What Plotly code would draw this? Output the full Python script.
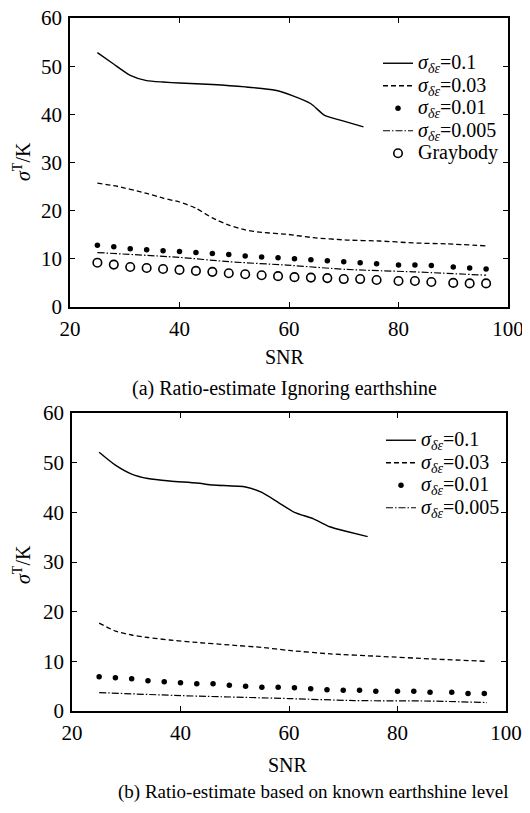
import plotly.graph_objects as go

# ---------------- data ----------------
snr_marks = [25, 28, 31, 34, 37, 40, 43, 46, 49, 52, 55, 58, 61, 64, 67, 70, 73, 76, 80, 83, 86, 90, 93, 96]

# (a) Ratio-estimate ignoring earthshine
a_x_01 = [25, 27.9, 31, 34, 37, 40, 46, 52, 57.5, 60.6, 64, 66.5, 70, 73.6]
a_y_01 = [52.8, 50.5, 48.1, 47.0, 46.7, 46.5, 46.2, 45.7, 45.0, 43.9, 42.2, 39.8, 38.6, 37.4]
a_x_003 = [25, 28, 34, 37, 40, 43, 46, 49, 52, 55, 59.6, 64.4, 70.5, 76.6, 82.7, 88.8, 96]
a_y_003 = [25.7, 25.2, 23.6, 22.6, 21.8, 20.5, 18.5, 17.0, 16.0, 15.5, 15.1, 14.4, 13.9, 13.7, 13.3, 13.1, 12.7]
a_y_001 = [12.8, 12.5, 12.1, 11.9, 11.7, 11.5, 11.3, 11.1, 10.9, 10.6, 10.4, 10.2,
           10.0, 9.8, 9.6, 9.4, 9.2, 9.0, 8.7, 8.7, 8.6, 8.3, 8.1, 7.9]
a_x_0005 = [25, 40, 49, 59.6, 70.5, 82.7, 96]
a_y_0005 = [11.3, 10.3, 9.4, 8.7, 7.8, 7.3, 6.6]
a_y_gray = [9.2, 8.8, 8.3, 8.1, 7.9, 7.7, 7.5, 7.3, 7.0, 6.8, 6.6, 6.4,
            6.2, 6.1, 6.0, 5.8, 5.8, 5.6, 5.4, 5.4, 5.2, 5.0, 4.9, 4.9]

# (b) Ratio-estimate based on known earthshine level
b_x_01 = [25, 28, 31, 34, 38, 43, 46, 52, 55, 58, 61, 64.5, 67.5, 70.5, 74.5]
b_y_01 = [52.1, 49.5, 47.7, 46.8, 46.3, 45.9, 45.5, 45.1, 44.0, 42.0, 40.0, 38.7, 37.1, 36.2, 35.1]
b_x_003 = [25, 28, 31, 34, 38, 43, 49, 55, 60, 67.6, 76.8, 86, 96.5]
b_y_003 = [17.7, 16.1, 15.3, 14.8, 14.3, 13.8, 13.3, 12.8, 12.2, 11.5, 11.0, 10.5, 10.0]
b_y_001 = [6.9, 6.7, 6.5, 6.1, 5.9, 5.7, 5.5, 5.5, 5.2, 5.0, 4.8, 4.8,
           4.7, 4.5, 4.3, 4.2, 4.2, 4.0, 4.0, 4.0, 3.8, 3.8, 3.5, 3.5]
b_x_0005 = [25, 40, 60, 72, 86, 96.5]
b_y_0005 = [3.7, 3.1, 2.5, 2.1, 2.0, 1.7]

x_ticks = [20, 40, 60, 80, 100]
y_ticks = [0, 10, 20, 30, 40, 50, 60]

legend_texts = ["<i>σ</i><sub><i>δε</i></sub>=0.1", "<i>σ</i><sub><i>δε</i></sub>=0.03",
                "<i>σ</i><sub><i>δε</i></sub>=0.01", "<i>σ</i><sub><i>δε</i></sub>=0.005", "Graybody"]
captions = ["(a) Ratio-estimate Ignoring earthshine",
            "(b) Ratio-estimate based on known earthshine level"]

# legend text drawn larger than the legend's row-spacing font
labels = ['<span style="font-size:20px">' + t + '</span>' for t in legend_texts]

# ---------------- figure ----------------
# page body has an 8px margin, so the figure is drawn 8px in from the window corner
OFF = 8
W, H = 530 - OFF, 813 - OFF
FONT = "Liberation Serif"
fig = go.Figure()

def px_x(p):
    return (p - OFF) / W

def px_y(p):
    return 1 - (p - OFF) / H

DASH = "5px,3px"
DASHDOT = "7px,2px,1.5px,2px"

def add_set(xa, ya, x01, y01, x003, y003, y001, x0005, y0005, ygray, leg):
    fig.add_trace(go.Scatter(x=x01, y=y01, mode="lines", name=labels[0], legend=leg,
                             line=dict(color="black", width=1.4, shape="spline", smoothing=0.6),
                             xaxis=xa, yaxis=ya))
    fig.add_trace(go.Scatter(x=x003, y=y003, mode="lines", name=labels[1], legend=leg,
                             line=dict(color="black", width=1.3, dash=DASH, shape="spline", smoothing=0.6),
                             xaxis=xa, yaxis=ya))
    fig.add_trace(go.Scatter(x=snr_marks, y=y001, mode="markers", name=labels[2], legend=leg,
                             marker=dict(color="black", size=5.5, symbol="circle"),
                             xaxis=xa, yaxis=ya))
    fig.add_trace(go.Scatter(x=x0005, y=y0005, mode="lines", name=labels[3], legend=leg,
                             line=dict(color="black", width=1.2, dash=DASHDOT, shape="spline", smoothing=0.6),
                             xaxis=xa, yaxis=ya))
    if ygray is not None:
        fig.add_trace(go.Scatter(x=snr_marks, y=ygray, mode="markers", name=labels[4], legend=leg,
                                 marker=dict(color="white", size=8.5, symbol="circle",
                                             line=dict(color="black", width=1.6)),
                                 xaxis=xa, yaxis=ya))

add_set("x", "y", a_x_01, a_y_01, a_x_003, a_y_003, a_y_001, a_x_0005, a_y_0005, a_y_gray, "legend")
add_set("x2", "y2", b_x_01, b_y_01, b_x_003, b_y_003, b_y_001, b_x_0005, b_y_0005, None, "legend2")

axis_common = dict(showline=True, linecolor="black", linewidth=1.5, mirror="ticks",
                   ticks="inside", ticklen=5, tickwidth=1.2, tickcolor="black",
                   showgrid=False, zeroline=False, tickfont=dict(family=FONT, size=21, color="black"),
                   automargin=False, ticklabeloverflow="allow")

fig.update_layout(
    width=W, height=H,
    margin=dict(l=0, r=0, t=0, b=0),
    paper_bgcolor="white", plot_bgcolor="white",
    font=dict(family=FONT, size=20, color="black"),
    xaxis=dict(domain=[px_x(70), px_x(508)], range=[20, 100], tickvals=x_ticks, anchor="y",
               ticklabelstandoff=2, **axis_common),
    yaxis=dict(domain=[px_y(307), px_y(18)], range=[0, 60], tickvals=y_ticks, anchor="x",
               ticklabelstandoff=2, **axis_common),
    xaxis2=dict(domain=[px_x(72), px_x(506)], range=[20, 100], tickvals=x_ticks, anchor="y2",
                ticklabelstandoff=2, **axis_common),
    yaxis2=dict(domain=[px_y(711), px_y(413)], range=[0, 60], tickvals=y_ticks, anchor="x2",
                ticklabelstandoff=2, **axis_common),
    legend=dict(x=px_x(378), y=px_y(47), xanchor="left", yanchor="top",
                bgcolor="rgba(0,0,0,0)", font=dict(family=FONT, size=15, color="black"),
                itemwidth=30, tracegroupgap=0),
    legend2=dict(x=px_x(381), y=px_y(424), xanchor="left", yanchor="top",
                 bgcolor="rgba(0,0,0,0)", font=dict(family=FONT, size=15, color="black"),
                 itemwidth=30, tracegroupgap=0),
    showlegend=True,
)

ann = []
def text_ann(t, x, y, angle=0, size=20):
    ann.append(dict(text=t, x=px_x(x), y=px_y(y), xref="paper", yref="paper",
                    showarrow=False, textangle=angle, xanchor="center", yanchor="middle",
                    font=dict(family=FONT, size=size, color="black")))

text_ann("<i>σ</i><sup>T</sup>/K", 22, 162, angle=-90, size=20)
text_ann("SNR", 285, 357, size=20)
text_ann(captions[0], 284, 388, size=20)
text_ann("<i>σ</i><sup>T</sup>/K", 22, 565, angle=-90, size=20)
text_ann("SNR", 288, 765, size=20)
text_ann(captions[1], 313, 792, size=19)
fig.update_layout(annotations=ann)

fig.write_html("out.html")
